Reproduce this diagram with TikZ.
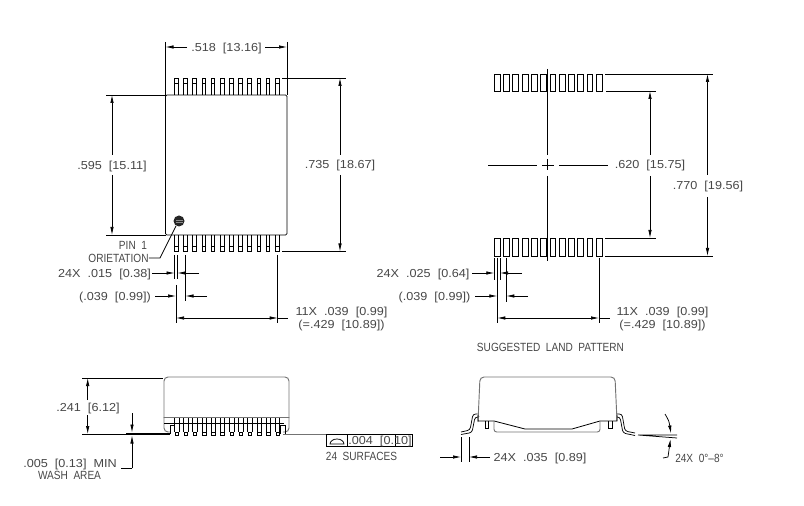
\documentclass[tikz,border=0pt]{standalone}
\usepackage{fontspec}
\newfontfamily\numfont[FakeStretch=1.09]{Liberation Sans}
\newfontfamily\capfont[FakeStretch=.85]{Liberation Sans}
\usetikzlibrary{arrows.meta}
\definecolor{inkgray}{gray}{0.28}
\tikzset{
  dimline/.style={line width=.55pt,-{Latex[length=6pt,width=2.6pt]}},
  extline/.style={line width=.55pt},
  partline/.style={line width=.6pt},
  softline/.style={line width=.7pt,black!55},
  dimtext/.style={inner sep=0pt,yshift=-.9pt,text=inkgray,font=\fontsize{8.7}{10}\numfont},
  captext/.style={inner sep=0pt,text=inkgray,font=\fontsize{8.9}{10}\capfont},
}
\newcommand{\dimlabel}[4]{\node[dimtext] (#1) at (#2,#3) {#4};}
\newcommand{\caplabel}[4]{\node[captext] (#1) at (#2,#3) {#4};}
\begin{document}
\begin{tikzpicture}[x=.75pt,y=-.75pt]
  \useasboundingbox (0,0) rectangle (804,506);
  % top view
  \draw[partline,rounded corners=1pt] (165.5,95) -- (287,95) -- (287,235) -- (165.5,235) -- cycle;
  \foreach \i in {0,...,11}{
    \pgfmathsetmacro{\px}{174.5+9.17*\i}
    \draw[partline] (\px,95) -- (\px,78) -- (\px+3.6,78) -- (\px+3.6,95);
    \draw[extline] (\px,83.5) -- (\px+3.6,83.5);
    \draw[partline] (\px,235) -- (\px,251.5) -- (\px+3.6,251.5) -- (\px+3.6,235);
    \draw[extline] (\px,246) -- (\px+3.6,246);
  }
  \fill[black!85] (179,221) circle (5.5);
  \draw[black!45,line width=.3pt] (175.5,220) -- (182.5,220) (175.5,222.5) -- (182.5,222.5);
  \coordinate (pinleg) at (160,258);
  \caplabel{pinone}{133}{245}{PIN\ \ 1}
  \caplabel{orient}{118.5}{258}{ORIETATION}
  \draw[extline] (176,226) -- (pinleg) -- (orient.east);
  % top view extension lines
  \draw[extline] (165.5,42) -- (165.5,95) (287,42) -- (287,95);
  \draw[dimline] (187,47) -- (165.5,47);
  \draw[dimline] (265,47) -- (287,47);
  \dimlabel{widthtop}{226.5}{47}{.518\ \ [13.16]}
  \draw[extline] (106,95) -- (165.5,95) (106,235) -- (165.5,235);
  \draw[dimline] (112,155) -- (112,95);
  \draw[dimline] (112,175) -- (112,235);
  \dimlabel{bodylen}{112}{165}{.595\ \ [15.11]}
  \draw[extline] (282,78) -- (346,78) (282,251.5) -- (346,251.5);
  \draw[dimline] (340,155) -- (340,78);
  \draw[dimline] (340,175) -- (340,251.5);
  \dimlabel{tiplen}{340}{164}{.735\ \ [18.67]}
  % pin dimensions
  \draw[extline] (174.5,255) -- (174.5,279) (177.5,255) -- (177.5,279)
                 (185.5,255) -- (185.5,301) (176,285) -- (176,323) (277.7,255) -- (277.7,323);
  \dimlabel{pinw}{104.5}{273}{24X\ \ .015\ \ [0.38]}
  \draw[dimline] (152,273) -- (174.5,273);
  \draw[dimline] (199,273) -- (177.5,273);
  \dimlabel{pitch}{115}{296}{(.039\ \ [0.99])}
  \draw[dimline] (155,296) -- (176,296);
  \draw[dimline] (207,296) -- (185.5,296);
  \draw[dimline] (227,318) -- (176,318);
  \draw[dimline] (227,318) -- (277.7,318);
  \draw[extline] (277.7,318) -- (288,318);
  \dimlabel{span}{341.5}{311}{11X\ \ .039\ \ [0.99]}
  \dimlabel{spantot}{341.5}{324}{(=.429\ \ [10.89])}
  % land pattern
  \foreach \i in {0,...,11}{
    \pgfmathsetmacro{\px}{494.3+9.27*\i}
    \draw[partline] (\px,74) rectangle (\px+5.8,91);
    \draw[partline] (\px,238) rectangle (\px+5.8,256);
  }
  \draw[extline] (547.7,69) -- (547.7,155) (547.7,159) -- (547.7,170) (547.7,176) -- (547.7,261);
  \draw[extline] (488,165) -- (537,165) (542,165) -- (554,165) (559,165) -- (608,165);
  \draw[extline] (606,91) -- (656,91) (605,238) -- (656,238);
  \draw[extline] (605,74) -- (713,74) (605,256) -- (713,256);
  \draw[dimline] (650,155) -- (650,91);
  \draw[dimline] (650,176) -- (650,238);
  \dimlabel{padin}{650}{164}{.620\ \ [15.75]}
  \draw[dimline] (707.5,175) -- (707.5,74);
  \draw[dimline] (707.5,197) -- (707.5,256);
  \dimlabel{padout}{708}{185}{.770\ \ [19.56]}
  \draw[extline] (494.3,258) -- (494.3,280) (500,258) -- (500,280)
                 (506.3,258) -- (506.3,302) (497.3,258) -- (497.3,323) (599,258) -- (599,323);
  \dimlabel{padw}{423}{273}{24X\ \ .025\ \ [0.64]}
  \draw[dimline] (472,273) -- (494.3,273);
  \draw[dimline] (522,273) -- (500,273);
  \dimlabel{padpitch}{434.5}{296}{(.039\ \ [0.99])}
  \draw[dimline] (475,296) -- (497.3,296);
  \draw[dimline] (528,296) -- (506.3,296);
  \draw[dimline] (548,318) -- (497.3,318);
  \draw[dimline] (548,318) -- (599,318);
  \draw[extline] (599,318) -- (610,318);
  \dimlabel{padspan}{662.5}{311}{11X\ \ .039\ \ [0.99]}
  \dimlabel{padtot}{662.5}{324}{(=.429\ \ [10.89])}
  \caplabel{landtitle}{550.5}{347}{SUGGESTED\ \ LAND\ \ PATTERN}
  % side view
  \draw[softline,rounded corners=3pt] (164,418) -- (164,377) -- (289,377) -- (289,418);
  \draw[softline] (164,417) -- (289,417);
  \draw[softline,rounded corners=3pt] (164,417) -- (164,432) -- (170,432);
  \draw[softline,rounded corners=3pt] (289,417) -- (289,432) -- (283,432);
  \foreach \i in {0,...,11}{
    \pgfmathsetmacro{\px}{174.5+9.17*\i}
    \draw[partline] (\px,418) -- (\px,432) (\px+4.5,418) -- (\px+4.5,432);
    \draw[extline] (\px+.5,432) rectangle (\px+4,435);
  }
  \draw[partline] (164,423) -- (284,423);
  \draw[partline] (170,434) -- (170,425) -- (174.5,425);
  \draw[partline] (285,434) -- (285,425) -- (279,425);
  \draw[partline] (280,434) -- (280,425);
  \draw[line width=1.2pt] (126,434) -- (170,434);
  \draw[extline] (82,378) -- (163,378) (82,434) -- (126,434);
  \draw[dimline] (87.7,400) -- (87.7,378);
  \draw[dimline] (87.7,415) -- (87.7,434);
  \dimlabel{height}{88}{407}{.241\ \ [6.12]}
  \draw[dimline] (132,413) -- (132,432.5);
  \draw[dimline] (132,468.3) -- (132,435.5);
  \draw[extline] (132,468.3) -- (121,468.3);
  \dimlabel{wash}{70}{463}{.005\ \ [0.13]\ \ MIN}
  \caplabel{washarea}{69.5}{475}{WASH\ \ AREA}
  \draw[softline] (283,434) -- (326,434);
  \draw[extline] (326,434) rectangle (412,446) (347,434) -- (347,446) (395,434) -- (395,446);
  \draw[extline] (330,444) arc (180:360:7 and 5) -- cycle;
  \dimlabel{flat}{380}{440.5}{.004\ \ [0.10]}
  \caplabel{surfaces}{361.5}{456}{24\ \ SURFACES}
  % end view
  \draw[softline,rounded corners=3pt] (478,422) -- (480,377) -- (615,377) -- (617,421);
  \draw[partline] (478,415) -- (478,421) -- (494,421) -- (525,429) -- (572,429) -- (600,421) -- (617,421) -- (617,415);
  \draw[softline,rounded corners=2pt] (494,421) -- (494,432) -- (600,432) -- (600,421);
  \draw[extline] (485,421) -- (485,428) -- (488,428) -- (488,421) (608,421) -- (608,428) -- (612,428) -- (612,421);
  \draw[extline,rounded corners=2pt] (477.5,414) -- (473,414) -- (470,430) -- (461,432);
  \draw[extline,rounded corners=2pt] (477.5,417) -- (475,417) -- (472,432.5) -- (461,434.5);
  \draw[extline,rounded corners=2pt] (617,414) -- (622,414) -- (625,431) -- (635,433);
  \draw[extline,rounded corners=2pt] (617,417) -- (620,417) -- (623,433) -- (635,435.5);
  \draw[extline] (461,437) -- (461,462) (469,437) -- (469,462);
  \draw[dimline] (440,457) -- (461,457);
  \draw[dimline] (490,457) -- (469,457);
  \dimlabel{leadw}{540}{457}{24X\ \ .035\ \ [0.89]}
  \draw[extline] (638,435) -- (677,435) (638,435) -- (677,438);
  \draw[dimline] (665,414) .. controls (669,421) .. (671,433.5);
  \draw[dimline] (668,457) -- (670.5,439);
  \draw[extline] (663,458) -- (668,457);
  \caplabel{footang}{699.5}{458}{24X\ \ 0°–8°}
\end{tikzpicture}
\end{document}
